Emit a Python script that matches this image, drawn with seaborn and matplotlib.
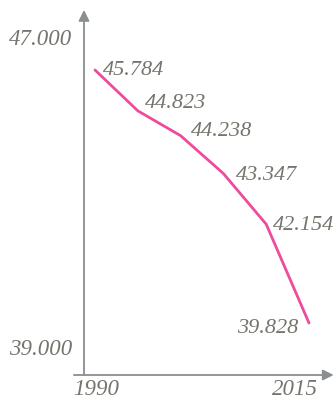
import matplotlib
matplotlib.use("Agg")
import matplotlib.pyplot as plt
import seaborn as sns
import pandas as pd

# Данные
years = [1990, 1995, 2000, 2005, 2010, 2015]
values = [45.784, 44.823, 44.238, 43.347, 42.154, 39.828]
value_labels = ["45.784", "44.823", "44.238", "43.347", "42.154", "39.828"]
y_tick_labels = ["47.000", "39.000"]
x_tick_labels = ["1990", "2015"]

LINE_COLOR = "#ee4b9d"
TEXT_COLOR = "#75756d"
AXIS_COLOR = "#8a8e91"

sns.set_style("white")
plt.rcParams["font.family"] = ["Liberation Serif", "DejaVu Serif"]

fig = plt.figure(figsize=(3.36, 4.0), dpi=100)
ax = fig.add_axes([0, 0, 1, 1])
ax.axis("off")

df = pd.DataFrame({"year": years, "value": values})
sns.lineplot(data=df, x="year", y="value", color=LINE_COLOR, linewidth=2, ax=ax)

# масштаб: 1990 -> 95px, 2015 -> 309px; 45.784 -> 70px, 39.828 -> 323px сверху
px_year = (309 - 95) / 25
px_val = (323 - 70) / (45.784 - 39.828)
ax.set_xlim(1990 - 95 / px_year, 1990 + (336 - 95) / px_year)
ax.set_ylim(45.784 - (400 - 70) / px_val, 45.784 + 70 / px_val)

# подписи точек (смещения базовой линии в пикселях)
offsets = [(8, -5), (7, 3), (10, 0), (13, -6), (7, -6), (-11, -10)]
aligns = ["left", "left", "left", "left", "left", "right"]
for x, y, lab, (dx, dy), ha in zip(years, values, value_labels, offsets, aligns):
    ax.annotate(lab, (x, y), xytext=(dx * 0.72, dy * 0.72), textcoords="offset points",
                ha=ha, va="baseline", fontsize=16, fontstyle="italic", color=TEXT_COLOR)

# оси со стрелками
ax.annotate("", xy=(0.25, 0.975), xytext=(0.25, 0.0625), xycoords="axes fraction",
            arrowprops=dict(arrowstyle="-|>", color=AXIS_COLOR, lw=1.3,
                            mutation_scale=16, shrinkA=0, shrinkB=0))
ax.annotate("", xy=(0.993, 0.0625), xytext=(0.22, 0.0625), xycoords="axes fraction",
            arrowprops=dict(arrowstyle="-|>", color=AXIS_COLOR, lw=1.3,
                            mutation_scale=16, shrinkA=0, shrinkB=0))

# подписи осей
tick_style = dict(transform=ax.transAxes, va="baseline", fontsize=16.5,
                  fontstyle="italic", color=TEXT_COLOR)
ax.text(41 / 336, 1 - 45 / 400, y_tick_labels[0], ha="center", **tick_style)
ax.text(41 / 336, 1 - 355 / 400, y_tick_labels[1], ha="center", **tick_style)
ax.text(96 / 336, 1 - 395 / 400, x_tick_labels[0], ha="center", **tick_style)
ax.text(295 / 336, 1 - 395 / 400, x_tick_labels[1], ha="center", **tick_style)

fig.savefig("out.png", dpi=100)
